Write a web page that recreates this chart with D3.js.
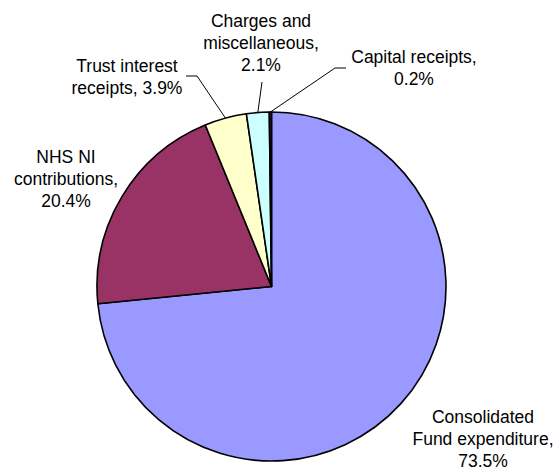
<!DOCTYPE html>
<html>
<head>
<meta charset="utf-8">
<script src="https://cdn.jsdelivr.net/npm/d3@7"></script>
<style>
  html, body { margin: 0; padding: 0; background: #fff; }
  svg { display: block; }
  text { font-family: "Liberation Sans", Arial, sans-serif; font-size: 17.5px; fill: #000; }
</style>
</head>
<body>
<svg id="chart" width="555" height="473"></svg>
<script>
// Sources of NHS funding, share of total (%)
const categories = [
  "Consolidated Fund expenditure",
  "NHS NI contributions",
  "Trust interest receipts",
  "Charges and miscellaneous",
  "Capital receipts"
];
const values = [73.5, 20.4, 3.9, 2.1, 0.2];
const colors = ["#9999FF", "#993366", "#FFFFCC", "#CCFFFF", "#660066"];

// Label lines as wrapped in the chart
const labelLines = [
  ["Consolidated", "Fund expenditure,", "73.5%"],
  ["NHS NI", "contributions,", "20.4%"],
  ["Trust interest", "receipts, 3.9%"],
  ["Charges and", "miscellaneous,", "2.1%"],
  ["Capital receipts,", "0.2%"]
];

const svg = d3.select("#chart");
const cx = 271.5, cy = 286.5, r = 174.5;
const lineH = 22;

const data = categories.map((c, i) => ({ name: c, value: values[i], color: colors[i], lines: labelLines[i] }));

const pie = d3.pie().sort(null).value(d => d.value);
const arcs = pie(data);
const arc = d3.arc().innerRadius(0).outerRadius(r);

const g = svg.append("g").attr("transform", `translate(${cx},${cy})`);

g.selectAll("path.slice")
  .data(arcs)
  .enter().append("path")
  .attr("class", "slice")
  .attr("d", arc)
  .attr("fill", d => d.data.color)
  .attr("stroke", "#000")
  .attr("stroke-width", 1.6)
  .attr("stroke-linejoin", "round");

// Label placement: text centre x and first baseline y (page coordinates)
const labelPos = [
  { x: 483, y: 423 },
  { x: 66,  y: 163 },
  { x: 127, y: 72 },
  { x: 261, y: 27 },
  { x: 414, y: 63 }
];

// Leader lines: from label elbow to the slice's outer edge at its mid-angle
const leaderStart = [
  null,
  null,
  [[186, 76], [197, 76]],
  [[262, 82]],
  [[346, 68], [335, 68]]
];

const pointOnEdge = a => {
  const m = (a.startAngle + a.endAngle) / 2;
  return [cx + r * Math.sin(m), cy - r * Math.cos(m)];
};

arcs.forEach((a, i) => {
  if (!leaderStart[i]) return;
  const pts = leaderStart[i].concat([pointOnEdge(a)]);
  svg.append("path")
    .attr("d", d3.line()(pts))
    .attr("fill", "none")
    .attr("stroke", "#000")
    .attr("stroke-width", 1);
});

arcs.forEach((a, i) => {
  const t = svg.append("text")
    .attr("text-anchor", "middle")
    .attr("x", labelPos[i].x)
    .attr("y", labelPos[i].y);
  a.data.lines.forEach((ln, j) => {
    t.append("tspan")
      .attr("x", labelPos[i].x)
      .attr("y", labelPos[i].y + j * lineH)
      .text(ln);
  });
});
</script>
</body>
</html>
